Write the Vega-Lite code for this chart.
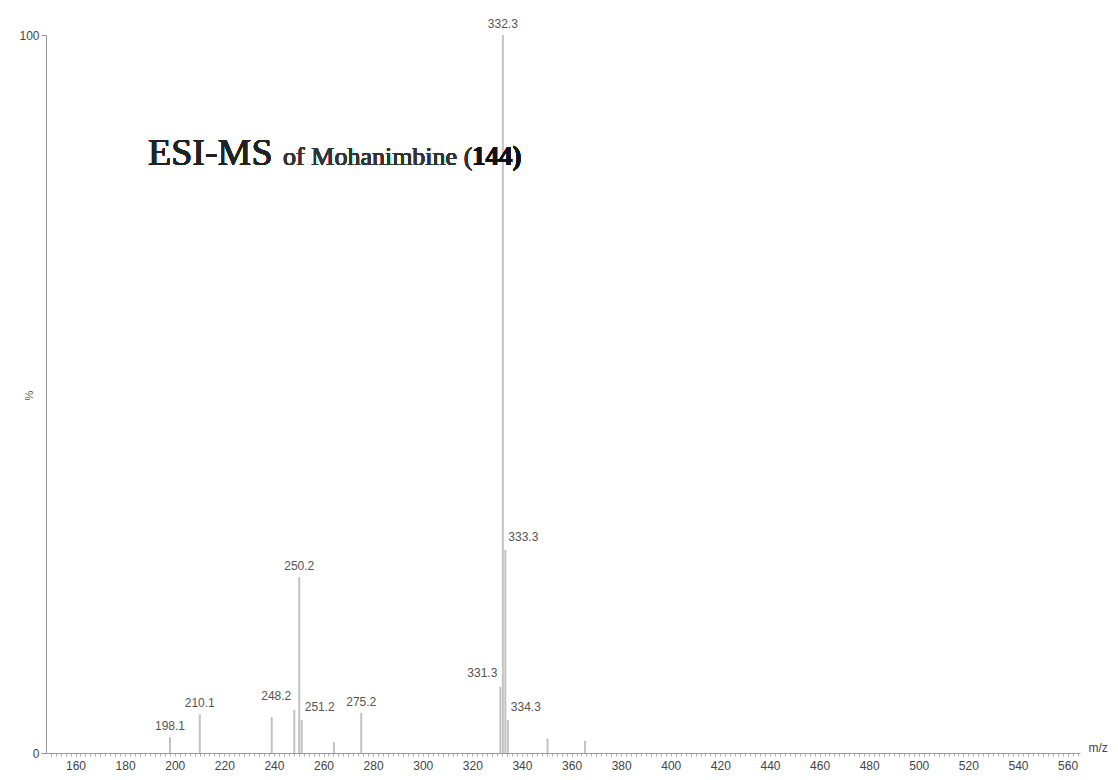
{
  "$schema": "https://vega.github.io/schema/vega-lite/v6.json",
  "width": 1034,
  "height": 718,
  "autosize": "none",
  "padding": {"left": 46, "top": 35, "right": 38, "bottom": 27},
  "background": "white",
  "config": {"view": {"stroke": null}, "font": "Liberation Sans"},
  "data": {
    "values": [
      {"mz": 198.1, "intensity": 2.2, "label": "198.1"},
      {"mz": 210.1, "intensity": 5.4, "label": "210.1"},
      {"mz": 239.1, "intensity": 5.0, "label": ""},
      {"mz": 248.2, "intensity": 6.0, "label": "248.2"},
      {"mz": 250.2, "intensity": 24.5, "label": "250.2"},
      {"mz": 251.2, "intensity": 4.6, "label": "251.2"},
      {"mz": 264.2, "intensity": 1.5, "label": ""},
      {"mz": 275.2, "intensity": 5.6, "label": "275.2"},
      {"mz": 331.3, "intensity": 9.2, "label": "331.3"},
      {"mz": 332.3, "intensity": 100, "label": "332.3"},
      {"mz": 333.3, "intensity": 28.3, "label": "333.3"},
      {"mz": 334.3, "intensity": 4.6, "label": "334.3"},
      {"mz": 350.3, "intensity": 2.0, "label": ""},
      {"mz": 365.4, "intensity": 1.7, "label": ""}
    ]
  },
  "layer": [
    {
      "mark": {"type": "rule", "color": "#c2c2c2", "strokeWidth": 2},
      "encoding": {
        "x": {
          "field": "mz",
          "type": "quantitative",
          "scale": {"domain": [148.1, 565], "nice": false, "zero": false},
          "axis": {
            "tickCount": 200,
            "labelExpr": "datum.value % 20 === 0 ? datum.label : ''",
            "labelOverlap": false,
            "labelFlush": false,
            "grid": false,
            "domainColor": "#999999",
            "tickColor": "#b0b0b0",
            "tickSize": 3,
            "labelFontSize": 12,
            "labelColor": "#444444",
            "labelPadding": 4,
            "title": "m/z",
            "titleFontSize": 12,
            "titleFontWeight": "normal",
            "titleColor": "#444444",
            "titleAnchor": "start",
            "titleAlign": "left",
            "titleBaseline": "alphabetic",
            "titleX": 1042,
            "titleY": -2
          }
        },
        "y": {
          "field": "intensity",
          "type": "quantitative",
          "scale": {"domain": [0, 100], "nice": false},
          "axis": {
            "values": [0, 100],
            "grid": false,
            "domainColor": "#999999",
            "tickColor": "#999999",
            "tickSize": 5,
            "labelFontSize": 12,
            "labelColor": "#444444",
            "title": "%",
            "titleFontSize": 11,
            "titleFontWeight": "normal",
            "titleColor": "#555555",
            "titleX": -12,
            "titleY": 360
          }
        },
        "y2": {"datum": 0}
      }
    },
    {
      "transform": [{"filter": {"field": "label", "oneOf": ["198.1", "210.1", "250.2", "275.2", "332.3"]}}],
      "mark": {"type": "text", "align": "center", "baseline": "bottom", "dy": -4, "fontSize": 12, "color": "#555555"},
      "encoding": {
        "x": {"field": "mz", "type": "quantitative"},
        "y": {"field": "intensity", "type": "quantitative"},
        "text": {"field": "label"}
      }
    },
    {
      "transform": [{"filter": {"field": "label", "oneOf": ["248.2", "331.3"]}}],
      "mark": {"type": "text", "align": "right", "baseline": "bottom", "dx": -3, "dy": -7, "fontSize": 12, "color": "#555555"},
      "encoding": {
        "x": {"field": "mz", "type": "quantitative"},
        "y": {"field": "intensity", "type": "quantitative"},
        "text": {"field": "label"}
      }
    },
    {
      "transform": [{"filter": {"field": "label", "oneOf": ["251.2", "333.3", "334.3"]}}],
      "mark": {"type": "text", "align": "left", "baseline": "bottom", "dx": 3, "dy": -6, "fontSize": 12, "color": "#555555"},
      "encoding": {
        "x": {"field": "mz", "type": "quantitative"},
        "y": {"field": "intensity", "type": "quantitative"},
        "text": {"field": "label"}
      }
    },
    {
      "mark": {"type": "text", "align": "left", "baseline": "alphabetic", "font": "Liberation Serif", "fontSize": 38, "color": "#222222", "text": "ESI-MS"},
      "encoding": {"x": {"datum": 189.2}, "y": {"datum": 81.9}}
    },
    {
      "mark": {"type": "text", "align": "left", "baseline": "alphabetic", "font": "Liberation Serif", "fontSize": 26, "fontWeight": "normal", "color": "#333333", "text": "of Mohanimbine ("},
      "encoding": {"x": {"datum": 243.7}, "y": {"datum": 81.9}}
    },
    {
      "mark": {"type": "text", "align": "left", "baseline": "alphabetic", "font": "Liberation Serif", "fontSize": 27, "fontWeight": "bold", "color": "#111111", "text": "144)"},
      "encoding": {"x": {"datum": 319.9}, "y": {"datum": 81.9}}
    }
  ]
}
